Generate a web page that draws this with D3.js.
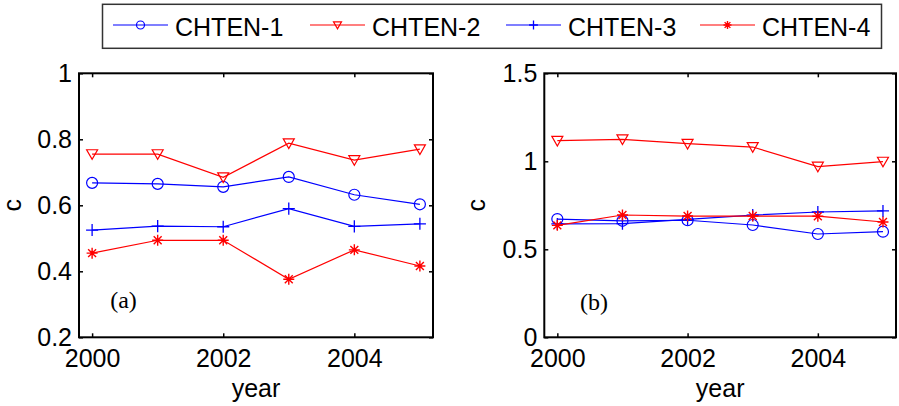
<!DOCTYPE html>
<html><head><meta charset="utf-8">
<script src="https://cdn.jsdelivr.net/npm/d3@7"></script>
<style>
html,body{margin:0;padding:0;background:#fff;}
svg{display:block;}
text{font-family:"Liberation Sans",Arial,sans-serif;}
text.tag{font-family:"Liberation Serif","Times New Roman",serif;}
</style></head>
<body>
<svg id="chart" width="899" height="406"></svg>
<script>
// ---- data ----
const years = [2000, 2001, 2002, 2003, 2004, 2005];
const seriesNames = ["CHTEN-1", "CHTEN-2", "CHTEN-3", "CHTEN-4"];
const seriesColors = ["#0000ff", "#ff0000", "#0000ff", "#ff0000"];
const seriesMarkers = ["circle", "triangle", "plus", "star"];

const a_chten1 = [0.668, 0.665, 0.656, 0.686, 0.632, 0.603];
const a_chten2 = [0.755, 0.755, 0.685, 0.788, 0.737, 0.770];
const a_chten3 = [0.525, 0.537, 0.535, 0.590, 0.536, 0.544];
const a_chten4 = [0.455, 0.494, 0.494, 0.376, 0.465, 0.416];

const b_chten1 = [0.672, 0.662, 0.665, 0.638, 0.587, 0.600];
const b_chten2 = [1.117, 1.125, 1.100, 1.081, 0.970, 0.998];
const b_chten3 = [0.644, 0.646, 0.670, 0.694, 0.712, 0.718];
const b_chten4 = [0.636, 0.695, 0.689, 0.689, 0.688, 0.655];

const xTicks = [2000, 2002, 2004];
const aYTicks = [0.2, 0.4, 0.6, 0.8, 1];
const bYTicks = [0, 0.5, 1, 1.5];
const xLabel = "year";
const yLabel = "c";

// ---- drawing ----
const svg = d3.select("#chart");

function drawMarker(g, type, cx, cy, color, s) {
  if (type === "circle") {
    g.append("circle").attr("cx", cx).attr("cy", cy).attr("r", s * 0.5)
      .attr("fill", "none").attr("stroke", color).attr("stroke-width", 1.2);
  } else if (type === "triangle") {
    const h = s * 0.5;
    g.append("path")
      .attr("d", `M${cx - h},${cy - h * 0.8}L${cx + h},${cy - h * 0.8}L${cx},${cy + h * 0.95}Z`)
      .attr("fill", "none").attr("stroke", color).attr("stroke-width", 1.2);
  } else if (type === "plus") {
    const h = s * 0.55;
    g.append("path").attr("d", `M${cx - h},${cy}H${cx + h}M${cx},${cy - h}V${cy + h}`)
      .attr("stroke", color).attr("stroke-width", 1.3).attr("fill", "none");
  } else if (type === "star") {
    const h = s * 0.5, d = h * 0.72;
    g.append("path").attr("d",
      `M${cx - h},${cy}H${cx + h}M${cx},${cy - h}V${cy + h}` +
      `M${cx - d},${cy - d}L${cx + d},${cy + d}M${cx - d},${cy + d}L${cx + d},${cy - d}`)
      .attr("stroke", color).attr("stroke-width", 1.4).attr("fill", "none");
  }
}

function panel(opts) {
  const { left, right, top, bottom, yDomain, yTicks, data, tag, tagX, tagY, ylabelX } = opts;
  const x = d3.scaleLinear().domain([1999.8, 2005.2]).range([left, right]);
  const y = d3.scaleLinear().domain(yDomain).range([bottom, top]);
  const g = svg.append("g");

  // series
  data.forEach((vals, i) => {
    const pts = years.map((yr, j) => [x(yr), y(vals[j])]);
    g.append("path").attr("d", d3.line()(pts))
      .attr("fill", "none").attr("stroke", seriesColors[i]).attr("stroke-width", 1.2);
    const mg = g.append("g");
    pts.forEach(p => drawMarker(mg, seriesMarkers[i], p[0], p[1], seriesColors[i], 11));
  });

  // axes
  const fmt = d3.format("~g");
  const bAx = svg.append("g").attr("transform", `translate(0,${bottom})`)
    .call(d3.axisBottom(x).tickValues(xTicks).tickFormat(d3.format("d")).tickSizeInner(-4).tickSizeOuter(0).tickPadding(12));
  const lAx = svg.append("g").attr("transform", `translate(${left},0)`)
    .call(d3.axisLeft(y).tickValues(yTicks).tickFormat(fmt).tickSizeInner(-4).tickSizeOuter(0).tickPadding(7));
  const tAx = svg.append("g").attr("transform", `translate(0,${top})`)
    .call(d3.axisTop(x).tickValues(xTicks).tickFormat("").tickSizeInner(-4).tickSizeOuter(0));
  const rAx = svg.append("g").attr("transform", `translate(${right},0)`)
    .call(d3.axisRight(y).tickValues(yTicks).tickFormat("").tickSizeInner(-4).tickSizeOuter(0));
  [bAx, lAx, tAx, rAx].forEach(a => {
    a.select(".domain").remove();
    a.selectAll(".tick line").attr("stroke", "#000").attr("stroke-width", 1.5);
    a.selectAll("text").attr("font-size", 25).attr("fill", "#000");
  });

  svg.append("rect").attr("x", left).attr("y", top)
    .attr("width", right - left).attr("height", bottom - top)
    .attr("fill", "none").attr("stroke", "#000").attr("stroke-width", 2);

  svg.append("text").attr("x", (left + right) / 2).attr("y", 397)
    .attr("text-anchor", "middle").attr("font-size", 25).text(xLabel);
  svg.append("text").attr("transform", `translate(${ylabelX},${(top + bottom) / 2}) rotate(-90)`)
    .attr("text-anchor", "middle").attr("font-size", 25).text(yLabel);
  svg.append("text").attr("class", "tag").attr("x", tagX).attr("y", tagY).attr("text-anchor", "middle")
    .attr("font-size", 24).text(tag);
}

panel({ left: 79, right: 433, top: 73.3, bottom: 337.3, yDomain: [0.2, 1], yTicks: aYTicks,
  data: [a_chten1, a_chten2, a_chten3, a_chten4], tag: "(a)", tagX: 123.5, tagY: 308, ylabelX: 21 });
panel({ left: 544.3, right: 896, top: 73.3, bottom: 337.3, yDomain: [0, 1.5], yTicks: bYTicks,
  data: [b_chten1, b_chten2, b_chten3, b_chten4], tag: "(b)", tagX: 594, tagY: 310, ylabelX: 485 });

// legend
const lg = svg.append("g");
lg.append("rect").attr("x", 102.5).attr("y", 4.3).attr("width", 779).attr("height", 44)
  .attr("fill", "#fff").attr("stroke", "#333").attr("stroke-width", 1.5);
const legX = [113, 310, 506, 700];
seriesNames.forEach((name, i) => {
  const x0 = legX[i];
  lg.append("line").attr("x1", x0).attr("x2", x0 + 55).attr("y1", 25).attr("y2", 25)
    .attr("stroke", seriesColors[i]).attr("stroke-width", 1.2);
  drawMarker(lg, seriesMarkers[i], x0 + 27.5, 25, seriesColors[i], 8);
  lg.append("text").attr("x", x0 + 62).attr("y", 36).attr("font-size", 25).attr("fill", "#000").text(name);
});
</script>
</body></html>
